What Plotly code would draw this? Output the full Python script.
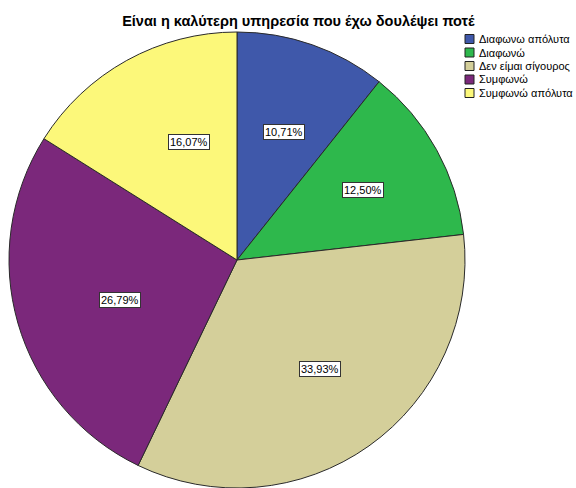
import math
import plotly.graph_objects as go

title = "Είναι η καλύτερη υπηρεσία που έχω δουλέψει ποτέ"
categories = ["Διαφωνω απόλυτα", "Διαφωνώ", "Δεν είμαι σίγουρος", "Συμφωνώ", "Συμφωνώ απόλυτα"]
percents = [10.71, 12.50, 33.93, 26.79, 16.07]
colors = ["#3F58AA", "#2EB84C", "#D4CF9A", "#7B287B", "#FCF87A"]

W, H = 576, 488
FONT = "Liberation Sans, Arial, sans-serif"
dom_x = [9 / W, 465 / W]
dom_y = [0.0, 1 - 32 / H]

fig = go.Figure(go.Pie(
    labels=categories,
    values=percents,
    sort=False,
    direction="clockwise",
    rotation=0,
    marker=dict(colors=colors, line=dict(color="#2a2a2a", width=1)),
    textinfo="none",
    hoverinfo="label+percent",
    domain=dict(x=dom_x, y=dom_y),
    showlegend=False,
))

# Boxed percentage labels placed along each slice's mid-angle
cx = (dom_x[0] + dom_x[1]) / 2 * W
cy = (1 - (dom_y[0] + dom_y[1]) / 2) * H
radius = min((dom_x[1] - dom_x[0]) * W, (dom_y[1] - dom_y[0]) * H) / 2
total = sum(percents)
cum = 0.0
for p in percents:
    mid = (cum + p / 2) / total * 2 * math.pi
    cum += p
    r = 0.63 * radius
    px = cx + r * math.sin(mid)
    py = cy - r * math.cos(mid)
    fig.add_annotation(
        x=px / W, y=1 - py / H, xref="paper", yref="paper",
        text=f"{p:.2f}%".replace(".", ","),
        showarrow=False,
        font=dict(family=FONT, size=11, color="black"),
        bgcolor="white", bordercolor="#333333", borderwidth=1, borderpad=1,
    )

# Legend: square swatch plus category name for each slice
leg_x0, leg_y0, leg_step, sw = 465, 39, 13.5, 9
for i, (name, col) in enumerate(zip(categories, colors)):
    yc = leg_y0 + i * leg_step
    fig.add_shape(
        type="rect", xref="paper", yref="paper",
        x0=leg_x0 / W, x1=(leg_x0 + sw) / W,
        y0=1 - (yc + sw / 2) / H, y1=1 - (yc - sw / 2) / H,
        fillcolor=col, line=dict(color="#222222", width=1),
    )
    fig.add_annotation(
        x=(leg_x0 + sw + 3) / W, y=1 - yc / H, xref="paper", yref="paper",
        xanchor="left", yanchor="middle", showarrow=False,
        text=name, font=dict(family=FONT, size=11, color="black"),
    )

fig.update_layout(
    width=W, height=H,
    margin=dict(l=0, r=0, t=0, b=0),
    paper_bgcolor="white", plot_bgcolor="white",
    title=dict(text=f"<b>{title}</b>", x=0.518, xanchor="center", y=0.958, yanchor="middle",
               font=dict(family=FONT, size=14.5, color="black")),
    showlegend=False,
)

fig.write_html("out.html")
